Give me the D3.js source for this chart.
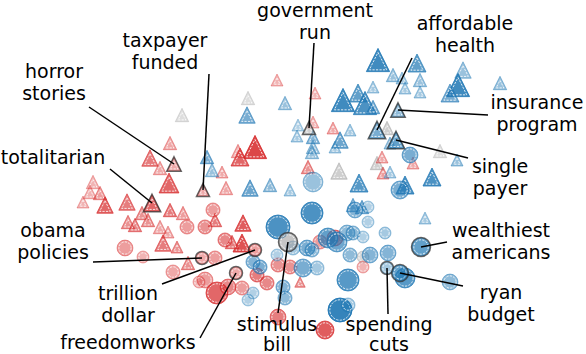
<!DOCTYPE html>
<html><head><meta charset="utf-8">
<script src="https://cdn.jsdelivr.net/npm/d3@7"></script>
<style>body{margin:0;background:#fff}svg{display:block}</style>
</head><body><svg id="chart" width="586" height="354"></svg>
<script>
// Each point: [x, y, weight, score]  (embedding coordinates, term weight, score)
const redTriangles = [
  [17.0,14.3,20,.4],[15.0,15.8,30,.6],[16.0,16.8,20,.4],[16.9,18.3,44,.7],
  [9.3,18.2,20,.35],[9.0,19.2,20,.35],[10.0,19.3,20,.45],[8.3,20.2,16,.35],
  [10.5,20.5,30,.7],[12.7,20.2,30,.6],[17.0,21.0,20,.6],[18.3,21.3,20,.45],
  [14.2,21.3,20,.5],[12.8,22.2,20,.5],[13.5,22.5,20,.55],[14.8,22.0,20,.5],
  [16.0,22.7,20,.4],[16.8,23.2,16,.4],[16.3,24.3,30,.6],[18.8,26.3,20,.5],
  [21.5,22.0,20,.6],[24.3,22.3,30,.75],[24.2,24.3,36,.8],[23.2,24.2,20,.6],
  [25.5,14.7,60,.85],[23.8,15.1,20,.4],[24.0,15.7,36,.7],[22.2,17.2,16,.4],
  [22.6,18.8,20,.4],[27.7,8.0,16,.35],[31.5,9.3,16,.35],[31.3,12.2,16,.35],
  [33.3,12.8,16,.4],[30.8,16.7,20,.5],[38.2,15.7,16,.4],[41.3,16.3,16,.4],
  [38.3,17.3,16,.45],[30.0,28.2,12,.5],[17.7,24.7,16,.5]
];
const blueTriangles = [
  [20.7,15.7,20,.6],[21.2,17.0,20,.45],[25.0,18.8,30,.65],[27.0,18.5,20,.5],
  [29.0,19.0,16,.4],[24.7,11.5,30,.6],[28.5,10.3,20,.45],[29.8,12.5,16,.35],
  [29.7,13.6,16,.4],[31.3,13.7,20,.55],[31.3,14.7,20,.45],[31.2,15.2,20,.45],
  [34.3,10.0,60,.85],[35.8,9.3,36,.7],[36.5,10.3,60,.8],[37.8,6.0,60,.85],
  [37.3,8.7,16,.4],[39.3,7.5,20,.45],[40.2,7.8,16,.4],[41.7,6.3,36,.7],
  [42.0,8.0,20,.45],[42.0,9.2,16,.4],[40.5,8.8,16,.4],[46.3,7.0,30,.45],
  [45.8,8.5,60,.85],[45.0,9.3,36,.6],[50.0,8.3,20,.45],[37.3,10.7,20,.6],
  [35.0,13.0,16,.4],[34.0,14.0,30,.65],[33.5,14.7,16,.4],[39.0,14.3,16,.45],
  [45.7,16.0,16,.45],[43.2,17.7,36,.8],[40.5,18.5,36,.8],[35.9,18.3,36,.75],
  [35.3,20.5,20,.55],[36.2,20.7,20,.6],[42.5,21.8,16,.4],[39.0,17.2,16,.4]
];
const grayTriangles = [
  [18.2,11.5,20,.35],[24.8,9.8,20,.35],[33.9,17.1,30,.5],[37.7,16.3,20,.5],
  [38.7,12.8,20,.5],[44.0,15.1,20,.35]
];
const redCircles = [
  [21.3,21.0,22,.45],[20.5,22.7,22,.5],[22.5,24.0,22,.55],[21.5,25.8,22,.45],
  [20.5,28.0,28,.45],[21.7,29.3,54,.7],[22.8,28.7,28,.55],[24.2,28.8,22,.45],
  [26.7,28.3,22,.55],[27.8,26.5,22,.5],[25.7,27.5,22,.6],[32.0,24.2,22,.45],
  [33.5,23.8,28,.6],[27.8,31.7,28,.6],[32.5,33.0,36,.75],[36.3,26.7,16,.35],
  [18.7,22.7,22,.45],[12.5,24.8,28,.45],[14.3,25.7,16,.35],[17.3,27.2,22,.4],
  [19.9,28.2,16,.35],[29.0,26.7,22,.5]
];
const blueCircles = [
  [31.3,18.2,44,.45],[41.0,15.5,28,.6],[40.0,19.0,36,.6],[31.2,21.3,54,.8],
  [27.8,22.7,64,.8],[25.3,26.2,22,.55],[26.0,26.7,22,.6],[27.7,25.5,16,.35],
  [30.7,24.8,28,.6],[31.2,25.0,22,.5],[30.3,26.8,36,.6],[31.7,26.8,22,.4],
  [28.3,28.7,22,.55],[25.3,29.3,16,.35],[24.8,30.0,16,.35],[28.5,29.8,22,.5],
  [32.8,23.8,44,.7],[34.7,23.3,28,.5],[35.3,23.3,22,.5],[36.3,23.7,16,.35],
  [38.5,23.3,16,.4],[33.7,24.2,44,.65],[35.5,21.0,28,.55],[36.8,20.7,16,.35],
  [36.8,22.2,16,.35],[35.0,25.5,22,.5],[37.0,25.5,28,.55],[38.8,25.3,28,.55],
  [34.8,28.0,54,.75],[34.0,31.0,64,.9],[34.8,30.5,22,.4],[40.5,27.8,44,.75],
  [45.0,28.2,28,.5],[29.3,24.8,22,.4]
];
const grayCircles = [[36.3,25.7,16,.4]];

// Annotated terms: [label, shape, colour group, x, y, weight, score]
const annotatedTerms = [
  ["horror stories","t","red",17.4,16.4,20,.4],
  ["totalitarian","t","red",15.2,20.3,30,.7],
  ["taxpayer funded","t","red",20.3,19.0,16,.4],
  ["government run","t","gray",30.9,12.8,16,.5],
  ["affordable health","t","blue",37.7,13.0,30,.6],
  ["insurance program","t","blue",39.8,11.0,20,.5],
  ["single payer","t","blue",39.6,14.0,30,.7],
  ["obama policies","c","red",20.2,25.8,16,.4],
  ["trillion dollar","c","red",25.5,25.0,16,.45],
  ["freedomworks","c","red",23.6,27.3,16,.4],
  ["stimulus bill","c","gray",28.8,24.2,36,.6],
  ["spending cuts","c","blue",38.7,26.8,16,.4],
  ["ryan budget","c","blue",40.0,27.3,28,.7],
  ["wealthiest americans","c","blue",42.1,24.7,36,.7]
];

// Label layout (pixels): text centre, first baseline, line gap, leader-line start
const labelLayout = {
  "horror stories":{lines:["horror","stories"],x:54,y:78,lx:89,ly:107},
  "totalitarian":{lines:["totalitarian"],x:53,y:164,lx:110,ly:169},
  "taxpayer funded":{lines:["taxpayer","funded"],x:165,y:47,lx:209,ly:74},
  "government run":{lines:["government","run"],x:315,y:17,lx:314,ly:43},
  "affordable health":{lines:["affordable","health"],x:465,y:30,lx:412,ly:58},
  "insurance program":{lines:["insurance","program"],x:537,y:109,lx:488,ly:115},
  "single payer":{lines:["single","payer"],x:500,y:173,lx:468,ly:158},
  "obama policies":{lines:["obama","policies"],x:53,y:237,lx:93,ly:262},
  "trillion dollar":{lines:["trillion","dollar"],x:128,y:300,lx:162,ly:284},
  "freedomworks":{lines:["freedomworks"],x:128,y:349,lx:200,ly:338},
  "stimulus bill":{lines:["stimulus","bill"],x:277,y:331,gap:20,lx:278,ly:313},
  "spending cuts":{lines:["spending","cuts"],x:389,y:331,gap:20,lx:388,ly:314},
  "ryan budget":{lines:["ryan","budget"],x:501,y:299,lx:463,ly:286},
  "wealthiest americans":{lines:["wealthiest","americans"],x:501,y:237,lx:447,ly:242}
};

const colors = {red:"#d62728", blue:"#1f77b4", gray:"#a0a0a0"};

const W = 586, H = 354;
const svg = d3.select("#chart");
const x = d3.scaleLinear().domain([0,58.6]).range([0,W]);
const y = d3.scaleLinear().domain([0,35.4]).range([0,H]);
const size = d3.scaleSqrt().domain([0,100]).range([0,15]);
const alpha = d3.scaleLinear().domain([0,1]).range([0,1]);

function triPath(h, k){
  const cy = 0.382*h;
  const p = [[0,-h],[h,h],[-h,h]].map(([px,py])=>[px*k, cy+(py-cy)*k]);
  return "M"+p.map(d=>d.join(",")).join("L")+"Z";
}
function circPath(r){
  return `M${r},0A${r},${r} 0 1,1 ${-r},0A${r},${r} 0 1,1 ${r},0Z`;
}
function outer(shape, s){ return shape==="t" ? triPath(s,1) : circPath(s); }
function inner(shape, s){
  if(shape==="t"){ const k = Math.max(0.25, 1 - 1.8/(0.618*s)); return triPath(s,k); }
  return circPath(Math.max(1.5, s-1.8));
}

function drawMarkers(g, data, shape, col){
  const m = g.selectAll(null).data(data).enter().append("g")
    .attr("transform", d=>`translate(${x(d[0])},${y(d[1])})`);
  m.append("path").attr("d", d=>outer(shape, size(d[2])))
    .attr("fill", colors[col]).attr("fill-opacity", d=>alpha(d[3]))
    .attr("stroke", colors[col]).attr("stroke-opacity", d=>alpha(d[3])).attr("stroke-width",1);
  m.append("path").attr("d", d=>inner(shape, size(d[2])))
    .attr("fill","none").attr("stroke","#fff").attr("stroke-width",0.9)
    .attr("stroke-dasharray","2.2,1.3").attr("stroke-opacity",0.9);
  return m;
}

const gm = svg.append("g");
drawMarkers(gm, grayTriangles, "t", "gray");
drawMarkers(gm, redTriangles, "t", "red");
drawMarkers(gm, blueTriangles, "t", "blue");
drawMarkers(gm, grayCircles, "c", "gray");
drawMarkers(gm, redCircles, "c", "red");
drawMarkers(gm, blueCircles, "c", "blue");

const ga = svg.append("g");
annotatedTerms.forEach(t=>{
  const [label, shape, col, tx, ty, w, a] = t;
  const g = ga.append("g");
  drawMarkers(g, [[tx,ty,w,a]], shape, col);
  g.append("path").attr("transform",`translate(${x(tx)},${y(ty)})`)
    .attr("d", outer(shape, size(w)+0.5)).attr("fill","none")
    .attr("stroke","#333").attr("stroke-opacity",0.75).attr("stroke-width",1.5);
});

const gl = svg.append("g");
annotatedTerms.forEach(t=>{
  const L = labelLayout[t[0]];
  gl.append("line").attr("x1",L.lx).attr("y1",L.ly).attr("x2",x(t[3])).attr("y2",y(t[4]))
    .attr("stroke","#000").attr("stroke-width",1.5);
  const txt = gl.append("text").attr("x",L.x).attr("y",L.y)
    .attr("text-anchor","middle").attr("font-family","DejaVu Sans")
    .attr("font-size","19px").attr("fill","#000");
  L.lines.forEach((s,i)=>{
    txt.append("tspan").attr("x",L.x).attr("dy", i===0?0:(L.gap||21.5)).text(s);
  });
});
</script>
</body></html>
